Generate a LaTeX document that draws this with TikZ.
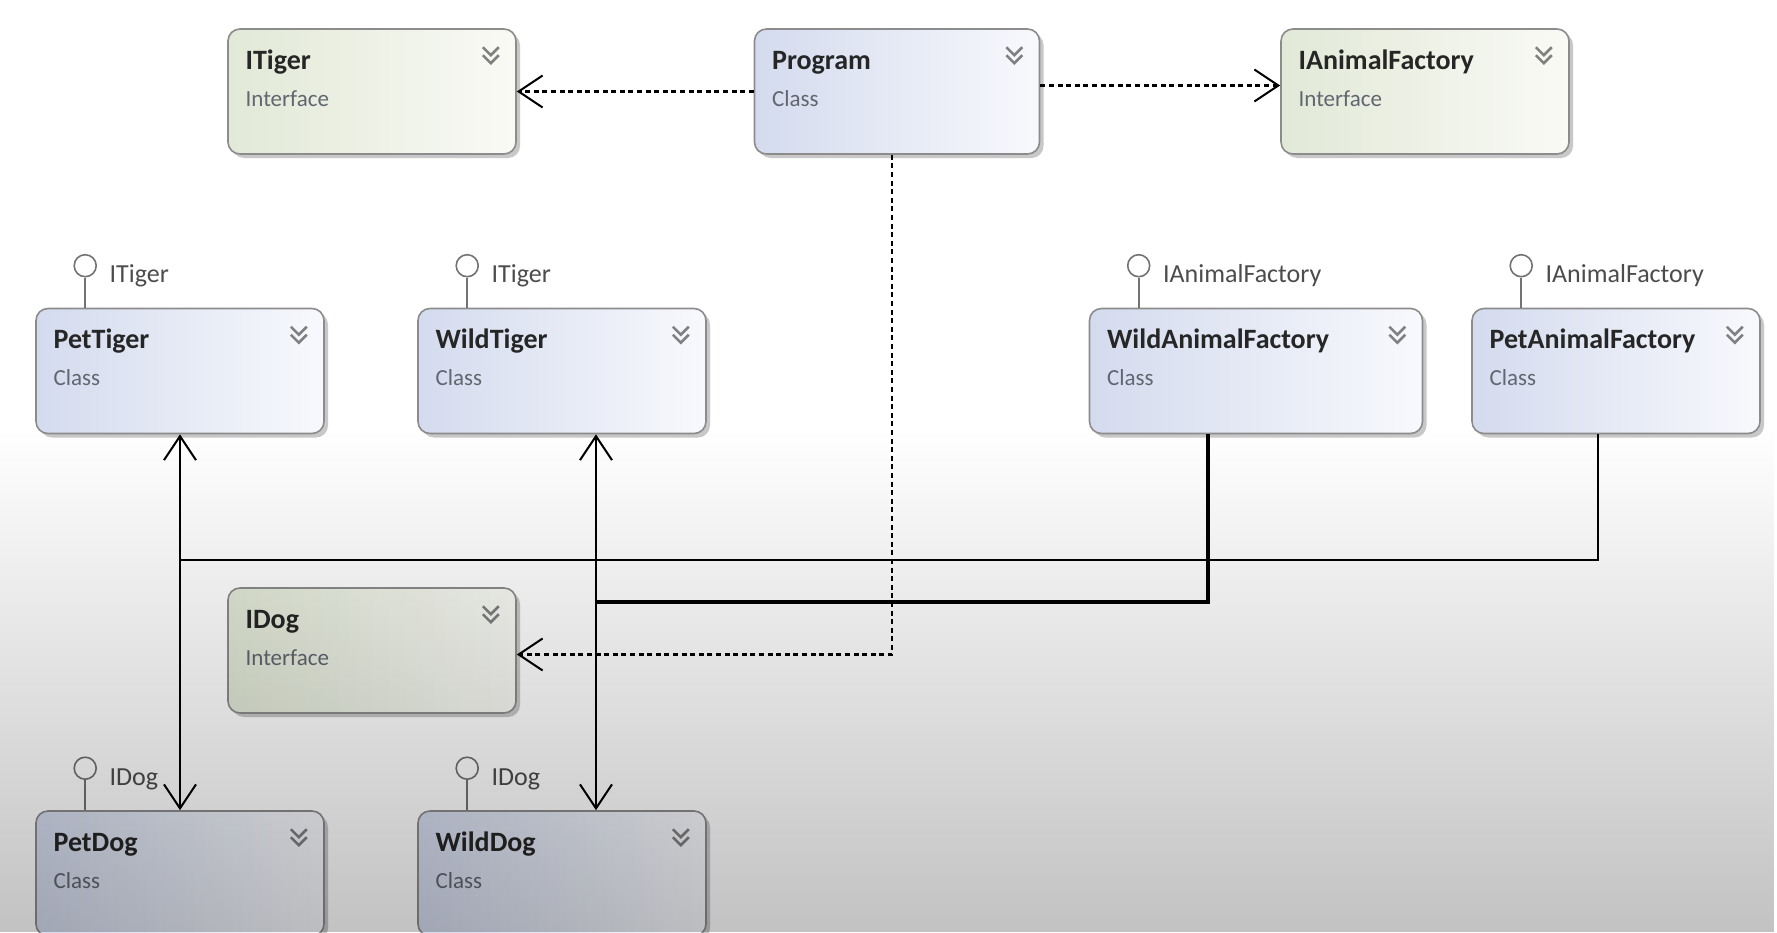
\documentclass[tikz,border=0pt]{standalone}
\usepackage{fontspec}
\setmainfont{Carlito}
\usetikzlibrary{calc,arrows.meta,shadows,fadings}
\definecolor{classL}{RGB}{212,219,238}
\definecolor{classR}{RGB}{248,249,253}
\definecolor{ifaceL}{RGB}{226,233,215}
\definecolor{ifaceR}{RGB}{249,250,245}
\definecolor{boxline}{RGB}{140,140,140}
\definecolor{kindgray}{RGB}{98,102,112}

% box with title, kind and the collapse chevrons
\newcommand\umlbox[6]{%
  \node[#6,minimum width=#3] (#1) at #2 {};
  \node[boxtitle] (#1-title) at ($(#1.north west)+(18,41)$) {#4};
  \node[boxkind] (#1-kind) at ($(#1.north west)+(18,78)$) {#5};
  \draw[chevron] ($(#1.north east)+(-34,19)$) -- ++(8,8) -- ++(8,-8)
                 ($(#1.north east)+(-34,27)$) -- ++(8,8) -- ++(8,-8);
}
% interface lollipop above a box
\newcommand\lolly[2]{%
  \node[lolliball] (#1-ball) at ($(#1.north west)+(50,-42)$) {};
  \draw[lollistem] (#1-ball.south) -- (#1-ball.south |- #1.north);
  \node[lollitext] (#1-iface) at ($(#1.north west)+(74,-25)$) {#2};
}

\begin{document}
\begin{tikzpicture}
  [x=0.5pt,y=-0.5pt,
   umlN/.style={rectangle,rounded corners=6pt,draw=boxline,line width=0.8pt,
                minimum height=62.5pt,
                drop shadow={shadow xshift=2pt,shadow yshift=-2pt,opacity=0.3,fill=black!70}},
   cls/.style={umlN,left color=classL,right color=classR},
   iface/.style={umlN,left color=ifaceL,right color=ifaceR},
   boxtitle/.style={anchor=base west,inner sep=0pt,text=black!85,
                    font=\fontsize{14}{16}\selectfont\bfseries},
   boxkind/.style={anchor=base west,inner sep=0pt,text=kindgray,
                   font=\fontsize{11.5}{14}\selectfont},
   chevron/.style={draw=black!50,line width=1.3pt},
   lolliball/.style={circle,draw=black!55,line width=0.8pt,fill=white,
                     minimum size=11pt,inner sep=0pt},
   lollistem/.style={draw=black!55,line width=0.8pt},
   lollitext/.style={anchor=base west,inner sep=0pt,text=black!70,
                     font=\fontsize{13}{15}\selectfont},
   tip/.style={-{Straight Barb[length=12pt,width=16pt,line width=1pt]}},
   dep/.style={tip,line width=1.2pt,dash pattern=on 2.5pt off 1.8pt},
   assoc/.style={line width=1pt},
  ]

 \useasboundingbox (0,0) rectangle (1777,932);
 \clip (0,0) rectangle (1777,932);
 \fill[white] (0,0) rectangle (1777,932);

 \umlbox{ITiger}{(372,91.5)}{144pt}{ITiger}{Interface}{iface}
 \umlbox{Program}{(897,91.5)}{142.5pt}{Program}{Class}{cls}
 \umlbox{IAnimalFactory}{(1425,91.5)}{144pt}{IAnimalFactory}{Interface}{iface}

 \umlbox{PetTiger}{(180,371)}{144pt}{PetTiger}{Class}{cls}
 \umlbox{WildTiger}{(562,371)}{144pt}{WildTiger}{Class}{cls}
 \umlbox{WildAnimalFactory}{(1256,371)}{166.5pt}{WildAnimalFactory}{Class}{cls}
 \umlbox{PetAnimalFactory}{(1616,371)}{144pt}{PetAnimalFactory}{Class}{cls}

 \umlbox{IDog}{(372,650.5)}{144pt}{IDog}{Interface}{iface}
 \umlbox{PetDog}{(180,873.5)}{144pt}{PetDog}{Class}{cls}
 \umlbox{WildDog}{(562,873.5)}{144pt}{WildDog}{Class}{cls}

 \lolly{PetTiger}{ITiger}
 \lolly{WildTiger}{ITiger}
 \lolly{WildAnimalFactory}{IAnimalFactory}
 \lolly{PetAnimalFactory}{IAnimalFactory}
 \lolly{PetDog}{IDog}
 \lolly{WildDog}{IDog}

 % dependencies of Program
 \draw[dep] (Program.west) -- (ITiger.east);
 \draw[dep] ([yshift=3pt]Program.east) -- ([yshift=3pt]IAnimalFactory.west);
 \draw[dep] ([xshift=-2.5pt]Program.south) |- ([yshift=-2pt]IDog.east);

 % factories to products
 \coordinate (petbus) at (180,560);
 \coordinate (wildbus) at (596,602);
 \draw[assoc] ($(PetAnimalFactory.south)+(-18,0)$) |- (petbus);
 \draw[assoc,tip] (petbus) -- (PetTiger.south);
 \draw[assoc,tip] (petbus) -- (PetDog.north);
 \draw[assoc,line width=1.6pt] ($(WildAnimalFactory.south)+(-48,0)$) |- (wildbus);
 \draw[assoc,tip] (wildbus) -- (wildbus |- WildTiger.south);
 \draw[assoc,tip] (wildbus) -- (wildbus |- WildDog.north);

 % darker lower half of the screen
 \fill[black,opacity=0.24,path fading=north] (0,430) rectangle (1777,932);

\end{tikzpicture}
\end{document}
